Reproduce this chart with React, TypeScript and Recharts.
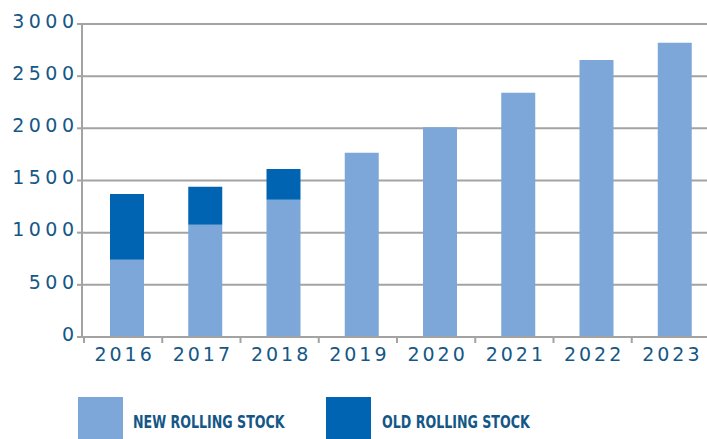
import React from 'react';
import { BarChart, Bar, XAxis, YAxis, CartesianGrid, Legend } from 'recharts';

const categories = ['2016', '2017', '2018', '2019', '2020', '2021', '2022', '2023'];
const newStock = [740, 1075, 1315, 1765, 2010, 2340, 2655, 2820];
const oldStock: (number | null)[] = [630, 365, 295, null, null, null, null, null];
const yTicks = [0, 500, 1000, 1500, 2000, 2500, 3000];
const seriesNames = ['NEW ROLLING STOCK', 'OLD ROLLING STOCK'];

const data = categories.map((c, i) => ({ year: c, newStock: newStock[i], oldStock: oldStock[i] }));

const W = 707;
const H = 439;
const LEFT = 82;
const MARGIN_RIGHT = -7;
const PAD_LEFT = 6;
const HALF_BAND = (W - LEFT - MARGIN_RIGHT - PAD_LEFT) / categories.length / 2;

const LIGHT = '#7da7d9';
const DARK = '#0064b3';
const TEXT = '#145787';
const GRID = '#a3a3a3';
const NUM_FONT = '"DejaVu Sans", sans-serif';

const XTick = (props: any) => {
  const { x, y, payload } = props;
  const cx = x - 4;
  return (
    <g>
      <line x1={cx - HALF_BAND} x2={cx - HALF_BAND} y1={y} y2={y + 6} stroke={GRID} strokeWidth={2} />
      <text x={cx + 1.5} y={y + 24} textAnchor="middle" fill={TEXT} fontFamily={NUM_FONT} fontSize={19} letterSpacing={3}>
        {payload.value}
      </text>
    </g>
  );
};

const YTick = (props: any) => {
  const { x, y, payload } = props;
  return (
    <text x={x + 4.5} y={y + 3.8} textAnchor="end" fill={TEXT} fontFamily={NUM_FONT} fontSize={19} letterSpacing={4.5}>
      {payload.value}
    </text>
  );
};

const LegendContent = () => {
  const items = [
    { name: seriesNames[0], color: LIGHT, left: 78, textLeft: 133 },
    { name: seriesNames[1], color: DARK, left: 326, textLeft: 382 },
  ];
  return (
    <div style={{ position: 'relative', width: W, height: 43 }}>
      {items.map((it) => (
        <React.Fragment key={it.name}>
          <div style={{ position: 'absolute', left: it.left, top: 0, width: 45, height: 43, background: it.color }} />
          <div
            style={{
              position: 'absolute',
              left: it.textLeft,
              top: 15,
              lineHeight: '20px',
              fontFamily: '"DejaVu Sans Condensed", "DejaVu Sans", sans-serif',
              fontStretch: 'condensed',
              fontWeight: 700,
              fontSize: 18,
              color: TEXT,
              whiteSpace: 'nowrap',
              transform: 'scaleX(0.78)',
              transformOrigin: 'left center',
            }}
          >
            {it.name}
          </div>
        </React.Fragment>
      ))}
    </div>
  );
};

export default function App() {
  return (
    <div style={{ position: 'absolute', left: 0, top: 0, width: W, height: H, background: '#fff', overflow: 'hidden' }}>
      <BarChart width={W} height={H} data={data} margin={{ top: 24, right: MARGIN_RIGHT, bottom: 72, left: 0 }}>
        <CartesianGrid vertical={false} stroke={GRID} strokeWidth={2} />
        <XAxis
          dataKey="year"
          height={30}
          padding={{ left: PAD_LEFT, right: 0 }}
          axisLine={{ stroke: GRID, strokeWidth: 2 }}
          tickLine={false}
          tickSize={0}
          tickMargin={0}
          tick={<XTick />}
          interval={0}
        />
        <YAxis
          width={LEFT}
          domain={[0, 3000]}
          ticks={yTicks}
          axisLine={{ stroke: GRID, strokeWidth: 2 }}
          tickLine={{ stroke: GRID, strokeWidth: 2 }}
          tickSize={5}
          tickMargin={3}
          tick={<YTick />}
          interval={0}
        />
        <Legend
          content={<LegendContent />}
          wrapperStyle={{ position: 'absolute', left: 0, top: 397, width: W, height: 0, overflow: 'visible' }}
        />
        <Bar dataKey="newStock" stackId="a" fill={LIGHT} barSize={34} isAnimationActive={false} name={seriesNames[0]} />
        <Bar dataKey="oldStock" stackId="a" fill={DARK} barSize={34} isAnimationActive={false} name={seriesNames[1]} />
      </BarChart>
    </div>
  );
}
